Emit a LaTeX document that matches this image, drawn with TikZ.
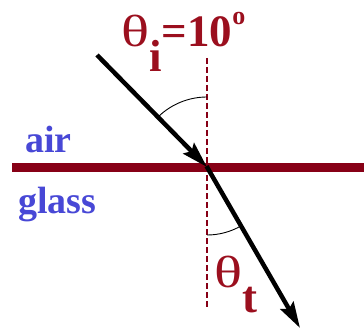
\documentclass[tikz,border=0pt]{standalone}
\usepackage{fontspec}
\setmainfont{Liberation Serif}
\usetikzlibrary{arrows.meta}
\definecolor{linered}{RGB}{135,0,22}
\definecolor{txtred}{RGB}{155,15,30}
\definecolor{txtblue}{RGB}{72,72,214}
\newcommand{\widetheta}{\scalebox{1.3}[1]{θ}}
\tikzset{
  ray/.style={line width=4.5pt, -{Stealth[length=26pt,width=15pt,inset=4pt]}},
  normal/.style={linered, line width=1.1pt, dash pattern=on 6pt off 3pt},
  anglearc/.style={black, line width=0.9pt},
  medium/.style={txtblue, font=\fontsize{38}{40}\selectfont\bfseries, inner sep=0pt, anchor=base west},
  angletext/.style={txtred, font=\fontsize{45}{47}\selectfont, inner sep=0pt, anchor=base west}
}
\begin{document}
\begin{tikzpicture}[x=1pt,y=-1pt]
\useasboundingbox (0,0) rectangle (364,334);
\coordinate (O) at (207,167);
\coordinate (A) at (97,55);
\coordinate (B) at (300,328);
\coordinate (N1) at (207,58);
\coordinate (N2) at (207,308);
\coordinate (L1) at (12,167);
\coordinate (L2) at (364,167);
\draw[normal] (N1) -- (N2);
\draw[linered, line width=9pt] (L1) -- (L2);
\draw[ray] (A) -- (O);
\draw[ray, shorten <=-1pt] (O) -- (B);
\draw[anglearc] ([shift={(270:70)}]O) arc[start angle=270, end angle=225.5, radius=70];
\draw[anglearc] ([shift={(90:68)}]O) arc[start angle=90, end angle=60, radius=68];
\node[angletext] (ti) at (121,47) {\widetheta\raisebox{-25pt}{\bfseries i}\bfseries=10\raisebox{22pt}{\fontsize{26}{26}\selectfont o}};
\node[angletext] (tt) at (214,287) {\widetheta\raisebox{-25pt}{\bfseries t}};
\node[medium] (air) at (25,153) {air};
\node[medium] (glass) at (18,213) {glass};
\end{tikzpicture}
\end{document}
